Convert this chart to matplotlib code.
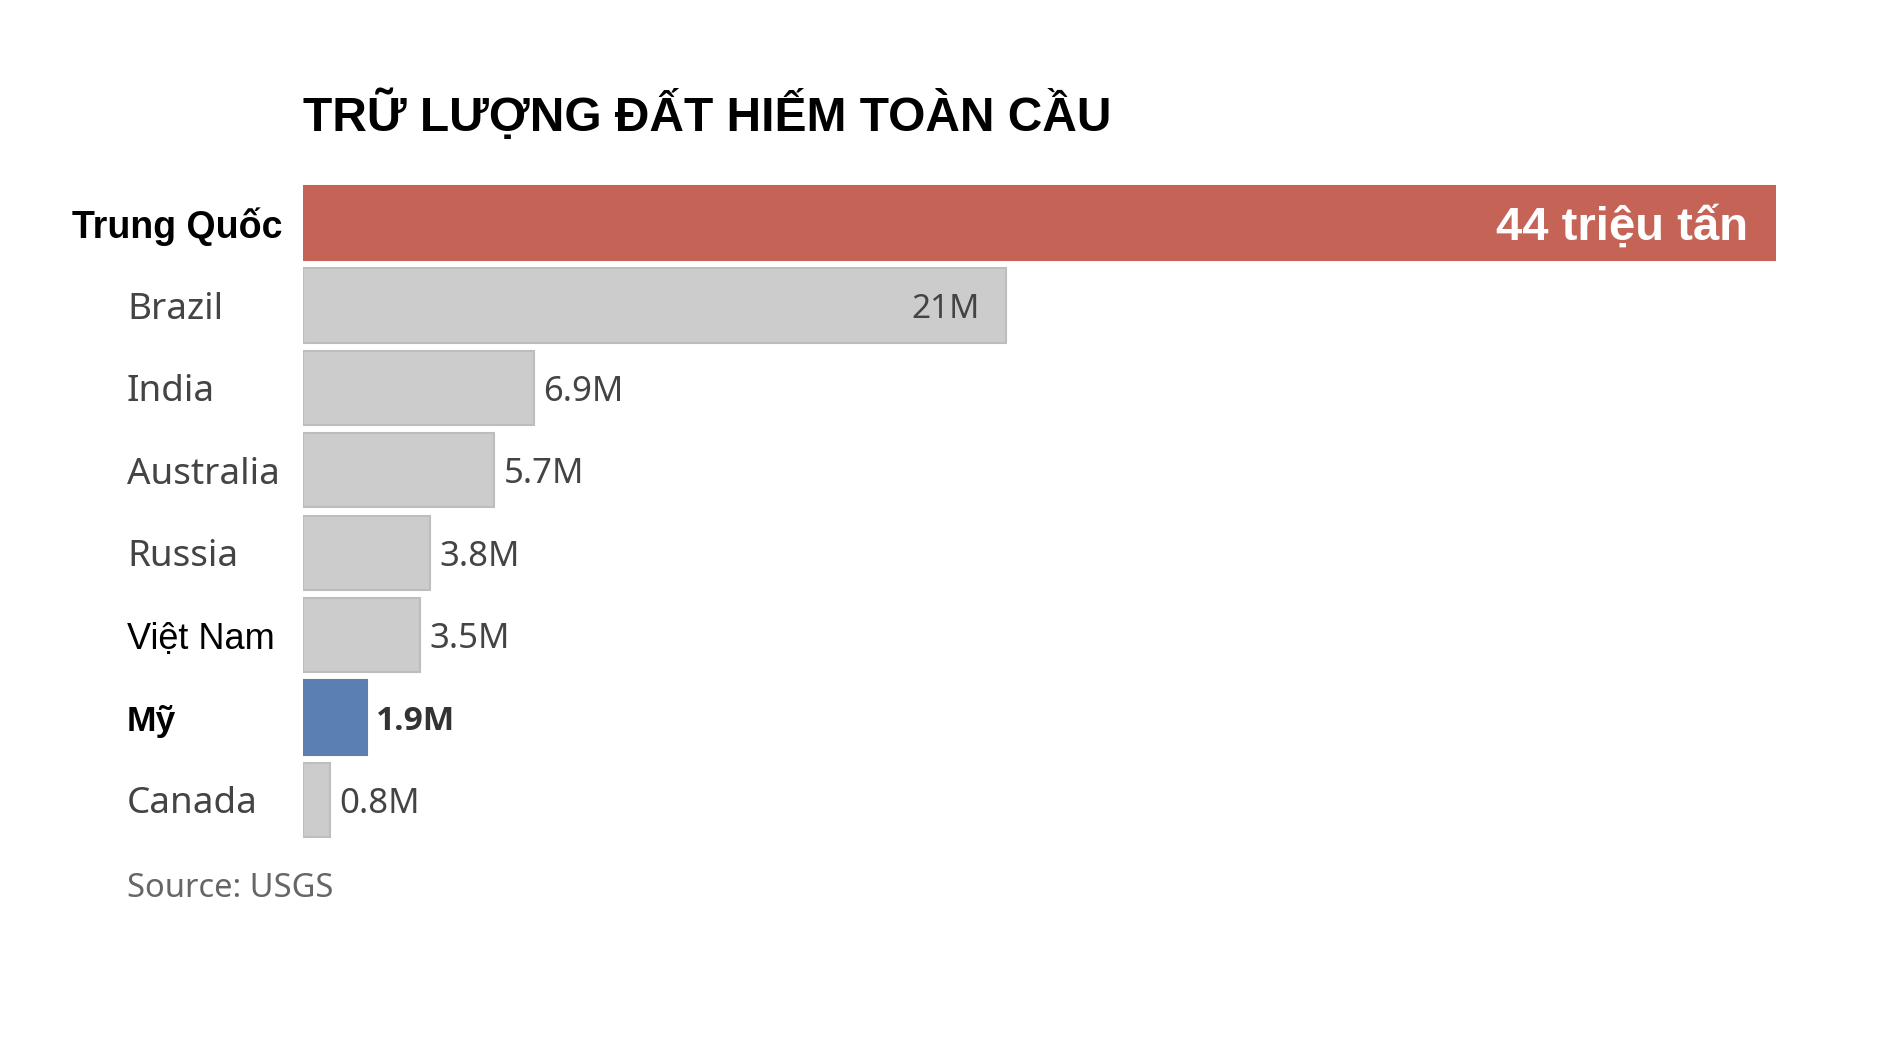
import matplotlib
matplotlib.use('Agg')
import matplotlib.pyplot as plt
from matplotlib.transforms import blended_transform_factory

# data (million tonnes)
countries = ['Trung Quốc', 'Brazil', 'India', 'Australia', 'Russia', 'Việt Nam', 'Mỹ', 'Canada']
reserves = [44, 21, 6.9, 5.7, 3.8, 3.5, 1.9, 0.8]
value_labels = ['44 triệu tấn', '21M', '6.9M', '5.7M', '3.8M', '3.5M', '1.9M', '0.8M']

RED = '#c56356'
BLUE = '#5b7fb3'
GREY = '#cccccc'
DARK = '#444444'

bar_colors = [RED, GREY, GREY, GREY, GREY, GREY, BLUE, GREY]
edge_colors = [RED, '#bdbdbd', '#bdbdbd', '#bdbdbd', '#bdbdbd', '#bdbdbd', BLUE, '#bdbdbd']

fig = plt.figure(figsize=(18.98, 10.46), dpi=100)
ax = fig.add_axes([0.1596, 0.1958, 0.776, 0.6304])

ypos = list(range(len(countries)))
ax.barh(ypos, reserves, height=0.9, color=bar_colors, edgecolor=edge_colors, linewidth=1.5)
ax.set_xlim(0, 44)
ax.set_ylim(len(countries) - 0.5, -0.5)
ax.axis('off')

# category labels, x in figure coords, y in data coords
lab = blended_transform_factory(fig.transFigure, ax.transData)
for i, name in enumerate(countries):
    if name == 'Trung Quốc':
        ax.text(0.1486, i, name, transform=lab, ha='right', va='center_baseline',
                fontsize=27, fontweight='bold', family='Liberation Sans', color='black')
    elif name == 'Mỹ':
        ax.text(0.0669, i, name, transform=lab, ha='left', va='center_baseline',
                fontsize=25.5, fontweight='bold', family='Liberation Sans', color='black')
    elif name == 'Việt Nam':
        ax.text(0.0669, i, name, transform=lab, ha='left', va='center_baseline',
                fontsize=26, family='Liberation Sans', color='black')
    else:
        ax.text(0.0669, i, name, transform=lab, ha='left', va='center_baseline',
                fontsize=26.5, family='Noto Sans', color=DARK)

# value labels
for i, (v, txt) in enumerate(zip(reserves, value_labels)):
    if i == 0:
        ax.annotate(txt, (v, i), xytext=(-20, 0), textcoords='offset points',
                    ha='right', va='center_baseline', fontsize=34, fontweight='bold',
                    family='Liberation Sans', color='white')
    elif i == 1:
        ax.annotate(txt, (v, i), xytext=(-19, 0), textcoords='offset points',
                    ha='right', va='center_baseline', fontsize=24, family='Noto Sans', color=DARK)
    elif countries[i] == 'Mỹ':
        ax.annotate(txt, (v, i), xytext=(7, 0), textcoords='offset points',
                    ha='left', va='center_baseline', fontsize=24, family='Open Sans',
                    fontweight='bold', color='#333333')
    else:
        ax.annotate(txt, (v, i), xytext=(7, 0), textcoords='offset points',
                    ha='left', va='center_baseline', fontsize=25, family='Noto Sans', color=DARK)

fig.text(0.1596, 0.8748, 'TRỮ LƯỢNG ĐẤT HIẾM TOÀN CẦU', ha='left', va='baseline',
         fontsize=34.5, fontweight='bold', family='Liberation Sans', color='black')
fig.text(0.0669, 0.1424, 'Source: USGS', ha='left', va='baseline',
         fontsize=23.5, family='Noto Sans', color='#666666')

fig.savefig('out.png', dpi=100, facecolor='white')
